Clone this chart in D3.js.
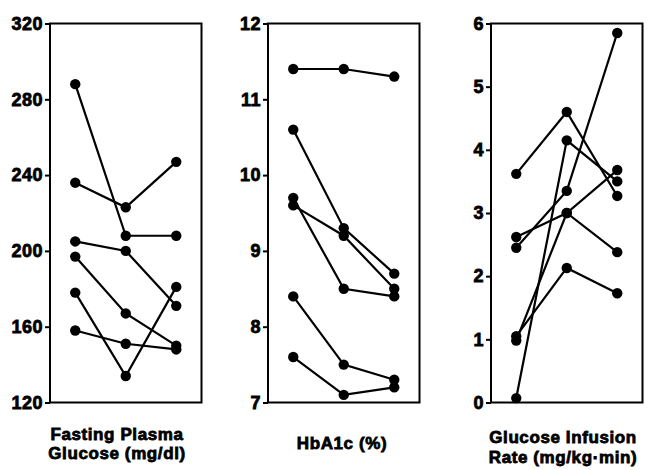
<!DOCTYPE html>
<html>
<head>
<meta charset="utf-8">
<style>
  body { margin: 0; background: #fff; }
  svg { display: block; }
  .tick text { font-family: "Liberation Sans", Arial, sans-serif; font-weight: bold; font-size: 18px; letter-spacing: 0.5px; fill: #000; stroke: #000; stroke-width: 0.8px; }
  .ttl { font-family: "Liberation Sans", Arial, sans-serif; font-weight: bold; font-size: 17px; letter-spacing: 0.6px; fill: #000; stroke: #000; stroke-width: 0.8px; }
</style>
</head>
<body>
<script src="https://cdn.jsdelivr.net/npm/d3@7"></script>
<script>
// visits on the x axis (no labels in the figure)
var visits = [0, 1, 2];

// Fasting plasma glucose, mg/dl, one row per patient
var fpg = [
  [288, 208, 208],
  [236, 223, 247],
  [205, 200, 171],
  [197, 167, 150],
  [178, 134, 181],
  [158, 151, 148]
];
var fpgTicks = [120, 160, 200, 240, 280, 320];

// HbA1c, %
var hba1c = [
  [11.4, 11.4, 11.3],
  [10.6, 9.3, 8.7],
  [9.7, 8.5, 8.4],
  [9.6, 9.2, 8.5],
  [8.4, 7.5, 7.3],
  [7.6, 7.1, 7.2]
];
var hbaTicks = [7, 8, 9, 10, 11, 12];

// glucose infusion rate, mg/kg·min
var gir = [
  [3.62, 4.6, 3.27],
  [0.07, 4.15, 3.5],
  [2.45, 3.35, 5.85],
  [2.62, 3.0, 3.68],
  [0.98, 3.0, 2.38],
  [1.05, 2.13, 1.73]
];
var girTicks = [0, 1, 2, 3, 4, 5, 6];

var titles = [
  ["Fasting Plasma", "Glucose (mg/dl)"],
  ["HbA1c (%)"],
  ["Glucose Infusion", "Rate (mg/kg\u00b7min)"]
];

var W = 651, H = 470;
var pw = 151.5, yTop = 23.5, yBot = 402.5;
var lefts = [50, 268, 491];
var titleX = [117, 342, 563];
var titleY = [[440, 458.5], [449], [443, 463]];

var svg = d3.select("body").append("svg").attr("width", W).attr("height", H);

var x = d3.scalePoint().domain(visits).range([0, pw]).padding(0.5);

var panels = [
  { rows: fpg, ticks: fpgTicks },
  { rows: hba1c, ticks: hbaTicks },
  { rows: gir, ticks: girTicks }
];

panels.forEach(function(p, i) {
  var y = d3.scaleLinear()
    .domain(d3.extent(p.ticks))
    .range([yBot, yTop]);

  var g = svg.append("g").attr("transform", "translate(" + lefts[i] + ",0)");

  g.append("rect")
    .attr("x", 0).attr("y", yTop)
    .attr("width", pw).attr("height", yBot - yTop)
    .attr("fill", "none").attr("stroke", "#000").attr("stroke-width", 2);

  var ax = g.append("g")
    .call(d3.axisLeft(y).tickValues(p.ticks).tickSize(5).tickPadding(2).tickFormat(d3.format("d")));
  ax.select(".domain").remove();
  ax.selectAll(".tick line").attr("stroke", "#000").attr("stroke-width", 2);

  var line = d3.line()
    .x(function(d, j) { return x(visits[j]); })
    .y(function(d) { return y(d); });

  g.selectAll("path.ser")
    .data(p.rows)
    .enter()
    .append("path")
    .attr("class", "ser")
    .attr("d", line)
    .attr("fill", "none")
    .attr("stroke", "#000")
    .attr("stroke-width", 2.2);

  p.rows.forEach(function(r) {
    g.selectAll(null)
      .data(r)
      .enter()
      .append("circle")
      .attr("cx", function(d, j) { return x(visits[j]); })
      .attr("cy", function(d) { return y(d); })
      .attr("r", 5.2)
      .attr("fill", "#000");
  });

  svg.selectAll(null)
    .data(titles[i])
    .enter()
    .append("text")
    .attr("class", "ttl")
    .attr("x", titleX[i])
    .attr("y", function(d, j) { return titleY[i][j]; })
    .attr("text-anchor", "middle")
    .text(function(d) { return d; });
});
</script>
</body>
</html>
